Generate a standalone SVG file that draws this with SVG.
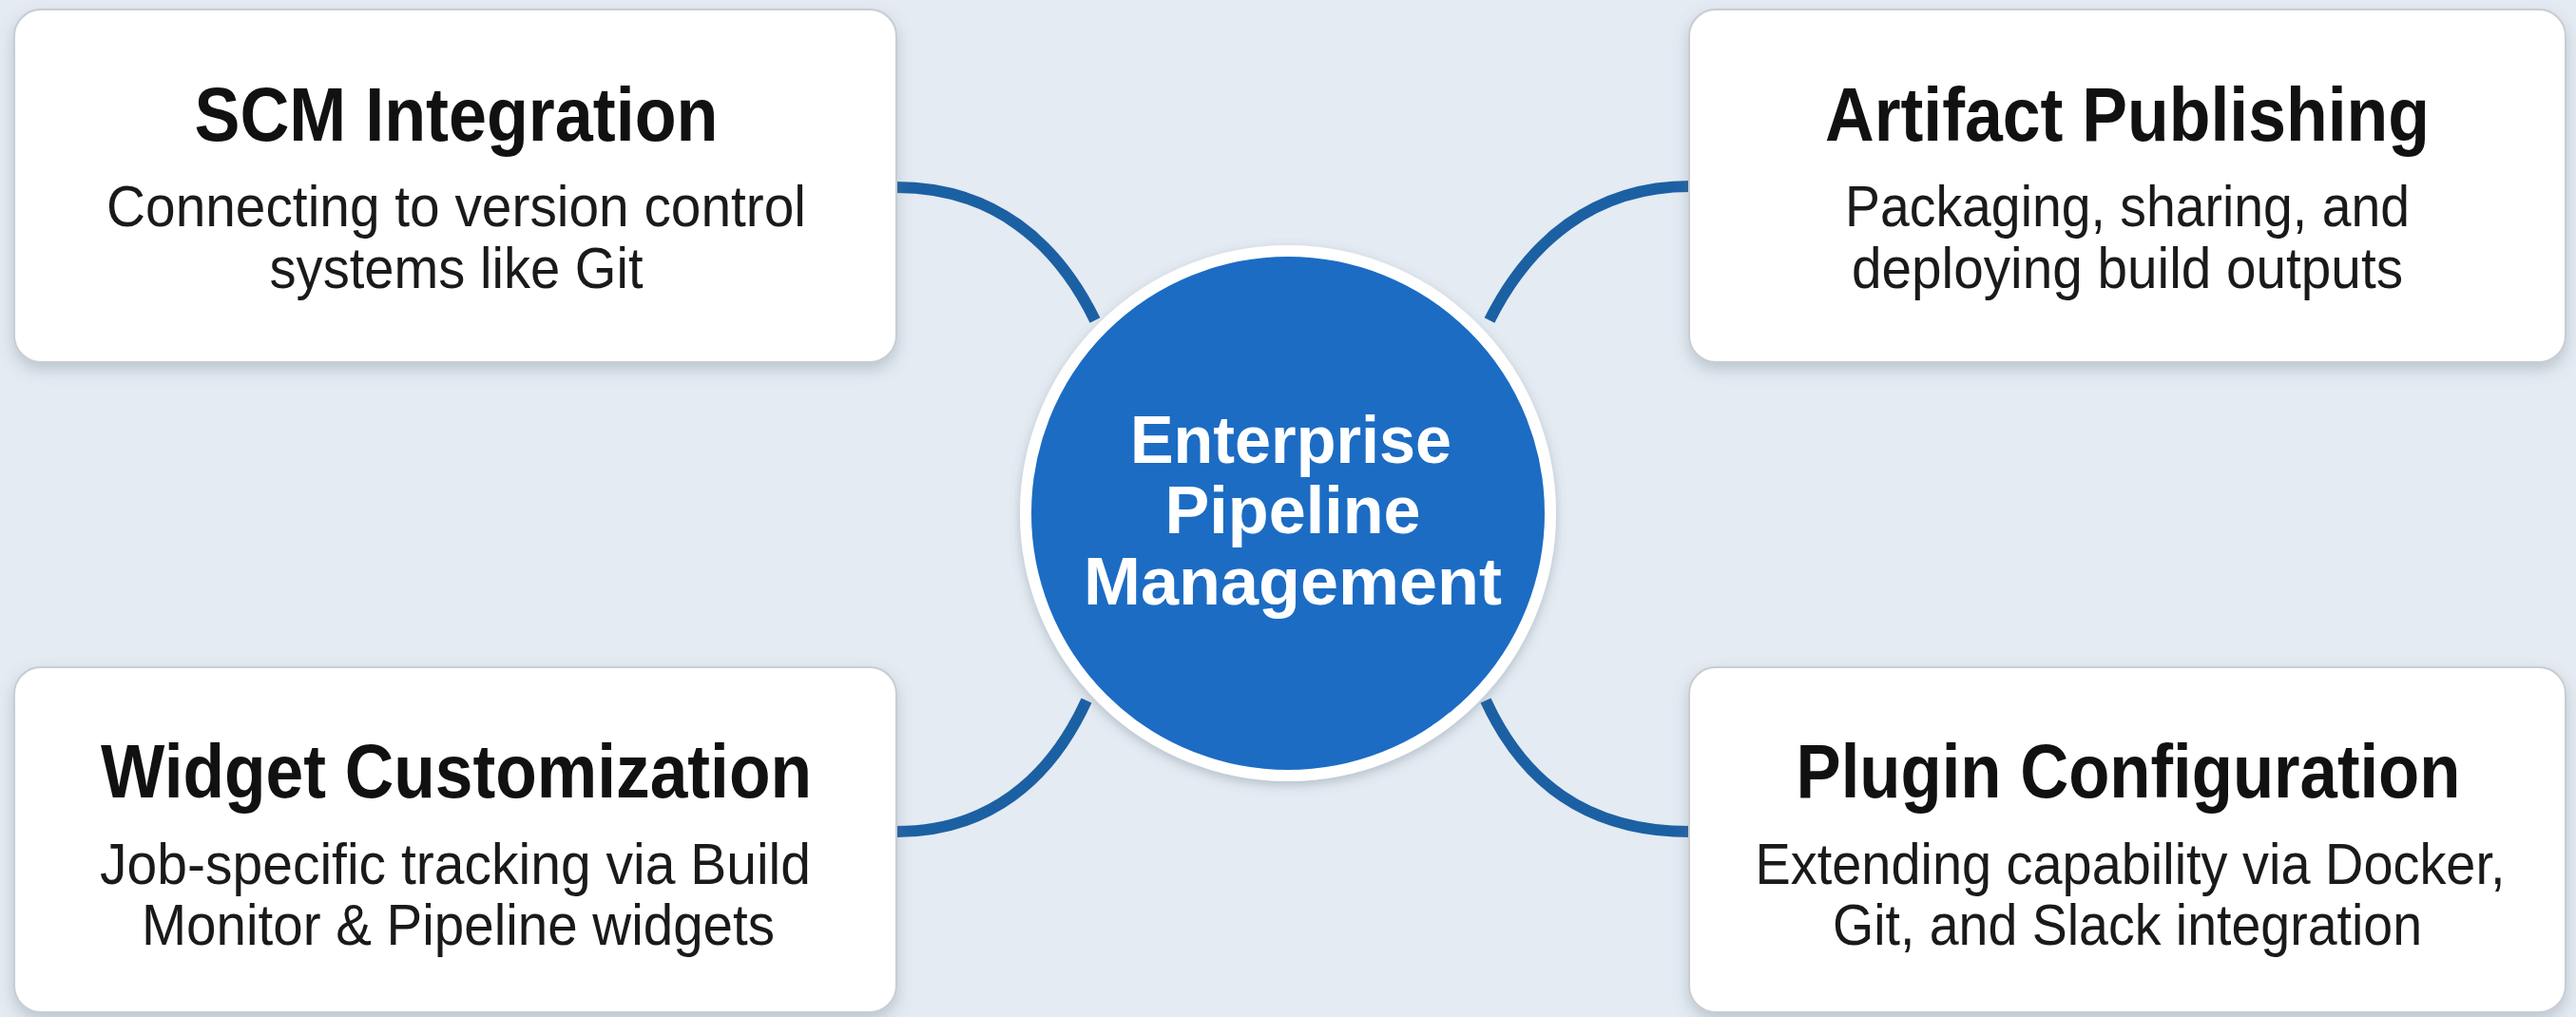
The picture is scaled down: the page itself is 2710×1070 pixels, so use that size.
<svg xmlns="http://www.w3.org/2000/svg" width="2710" height="1070" viewBox="0 0 2710 1070">
  <defs>
    <filter id="shadow" x="-10%" y="-10%" width="120%" height="130%">
      <feDropShadow dx="0" dy="7" stdDeviation="8" flood-color="#6f7f8e" flood-opacity="0.35"/>
    </filter>
    <filter id="cshadow" x="-10%" y="-10%" width="120%" height="120%">
      <feDropShadow dx="0" dy="4" stdDeviation="6" flood-color="#5a6b7c" flood-opacity="0.35"/>
    </filter>
  </defs>
  <style>
    .box { fill: #ffffff; stroke: #c8cdd3; stroke-width: 2; filter: url(#shadow); }
    .title { font-family: "Liberation Sans", Arial, sans-serif; font-weight: bold; font-size: 80px; fill: #111111; text-anchor: middle; }
    .sub { font-family: "Liberation Sans", Arial, sans-serif; font-size: 61px; fill: #1a1a1a; text-anchor: middle; }
    .hub { font-family: "Liberation Sans", Arial, sans-serif; font-weight: bold; font-size: 71px; fill: #ffffff; text-anchor: middle; }
    .conn { fill: none; stroke: #1c60a4; stroke-width: 12; stroke-linecap: butt; }
  </style>
  <rect x="0" y="0" width="2710" height="1070" fill="#e4ebf2"/>

  <g id="connectors">
    <path class="conn" d="M943,197 C1045,197 1112,255 1152,337"/>
    <path class="conn" d="M1778,196 C1676,196 1608,255 1567,337"/>
    <path class="conn" d="M1143,737 C1105,820 1040,875 943,875"/>
    <path class="conn" d="M1563,737 C1601,820 1666,875 1778,875"/>
  </g>

  <g id="hub">
    <circle cx="1355" cy="540" r="276" fill="#1a6cc4" stroke="#ffffff" stroke-width="12" filter="url(#cshadow)"/>
    <text class="hub" x="1358" y="487" textLength="338" lengthAdjust="spacingAndGlyphs">Enterprise</text>
    <text class="hub" x="1360" y="561" textLength="269" lengthAdjust="spacingAndGlyphs">Pipeline</text>
    <text class="hub" x="1360" y="636" textLength="440" lengthAdjust="spacingAndGlyphs">Management</text>
  </g>

  <g id="scm-integration">
    <rect class="box" x="15" y="10" width="928" height="371" rx="28" ry="28"/>
    <text class="title" x="480" y="148" textLength="551" lengthAdjust="spacingAndGlyphs">SCM Integration</text>
    <text class="sub" x="480" y="238" textLength="736" lengthAdjust="spacingAndGlyphs">Connecting to version control</text>
    <text class="sub" x="480" y="303" textLength="393" lengthAdjust="spacingAndGlyphs">systems like Git</text>
  </g>

  <g id="artifact-publishing">
    <rect class="box" x="1777" y="10" width="922" height="371" rx="28" ry="28"/>
    <text class="title" x="2238" y="148" textLength="636" lengthAdjust="spacingAndGlyphs">Artifact Publishing</text>
    <text class="sub" x="2238" y="238" textLength="594" lengthAdjust="spacingAndGlyphs">Packaging, sharing, and</text>
    <text class="sub" x="2238" y="303" textLength="580" lengthAdjust="spacingAndGlyphs">deploying build outputs</text>
  </g>

  <g id="widget-customization">
    <rect class="box" x="15" y="702" width="928" height="363" rx="28" ry="28"/>
    <text class="title" x="480" y="839" textLength="748" lengthAdjust="spacingAndGlyphs">Widget Customization</text>
    <text class="sub" x="479" y="930" textLength="748" lengthAdjust="spacingAndGlyphs">Job-specific tracking via Build</text>
    <text class="sub" x="482" y="994" textLength="666" lengthAdjust="spacingAndGlyphs">Monitor &amp; Pipeline widgets</text>
  </g>

  <g id="plugin-configuration">
    <rect class="box" x="1777" y="702" width="922" height="363" rx="28" ry="28"/>
    <text class="title" x="2239" y="839" textLength="699" lengthAdjust="spacingAndGlyphs">Plugin Configuration</text>
    <text class="sub" x="2241" y="930" textLength="789" lengthAdjust="spacingAndGlyphs">Extending capability via Docker,</text>
    <text class="sub" x="2238" y="994" textLength="620" lengthAdjust="spacingAndGlyphs">Git, and Slack integration</text>
  </g>
</svg>
